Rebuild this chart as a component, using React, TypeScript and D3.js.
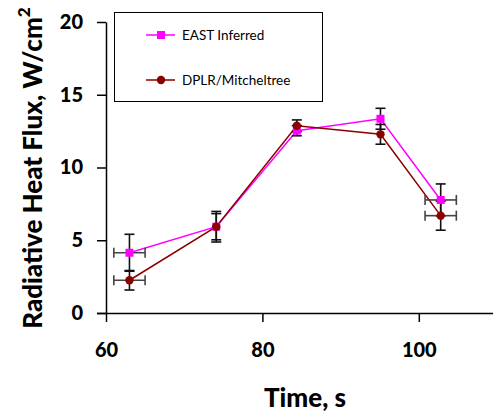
import React, { useEffect, useRef } from "react";
import { select, scaleLinear, axisBottom, axisLeft, line } from "d3";

const width = 493;
const height = 413;
const margin = { top: 22, left: 106, bottom: 100 };

const times = [63, 74.1, 84.4, 95.1, 102.8];
const timeErr = [2, 0, 0, 0, 2];
const eastFlux = [4.14, 5.93, 12.53, 13.35, 7.77];
const eastErr = [1.27, 1.05, 0.35, 0.72, 1.1];
const dplrFlux = [2.25, 5.93, 12.87, 12.28, 6.69];
const dplrErr = [0.67, 0.9, 0.4, 0.68, 1.0];
const xTicks = [60, 80, 100];
const yTicks = [0, 5, 10, 15, 20];
const seriesNames = ["EAST Inferred", "DPLR/Mitcheltree"];

const font = "Lato, 'Open Sans', sans-serif";

const App = () => {
  const ref = useRef<SVGSVGElement>(null);

  useEffect(() => {
    const svg = select(ref.current);
    svg.selectAll("*").remove();

    const x = scaleLinear().domain([60, 110]).range([margin.left, 497]);
    const y = scaleLinear()
      .domain([0, 20])
      .range([height - margin.bottom, margin.top]);

    const series = [
      { name: seriesNames[0], values: eastFlux, err: eastErr, color: "#ff00ff", marker: "square" },
      { name: seriesNames[1], values: dplrFlux, err: dplrErr, color: "#8b0000", marker: "circle" },
    ];

    // axes
    const xAxis = svg
      .append("g")
      .attr("transform", `translate(0,${y(0)})`)
      .call(axisBottom(x).tickValues(xTicks).tickSize(9).tickSizeOuter(0).tickPadding(21));
    xAxis.select(".domain").attr("stroke-width", 1.5).attr("d", `M${margin.left - 9},0.5H${width}`);
    xAxis.selectAll(".tick line").attr("stroke-width", 1.5);
    xAxis
      .selectAll(".tick text")
      .attr("font-family", font)
      .attr("font-weight", 900)
      .attr("font-size", 20)
      .attr("fill", "#000");

    const yAxis = svg
      .append("g")
      .attr("transform", `translate(${x(60)},0)`)
      .call(axisLeft(y).tickValues(yTicks).tickSize(9).tickSizeOuter(0).tickPadding(14));
    yAxis.select(".domain").attr("stroke-width", 1.5);
    yAxis.selectAll(".tick line").attr("stroke-width", 1.5);
    yAxis
      .selectAll(".tick text")
      .attr("font-family", font)
      .attr("font-weight", 900)
      .attr("font-size", 20)
      .attr("fill", "#000");

    // titles
    svg
      .append("text")
      .attr("x", 305)
      .attr("y", 407)
      .attr("text-anchor", "middle")
      .attr("font-family", font)
      .attr("font-weight", 900)
      .attr("font-size", 26)
      .text("Time, s");

    const yt = svg
      .append("text")
      .attr("transform", `translate(42,168) rotate(-90)`)
      .attr("text-anchor", "middle")
      .attr("font-family", font)
      .attr("font-weight", 900)
      .attr("font-size", 26);
    yt.append("tspan").text("Radiative Heat Flux, W/cm");
    yt.append("tspan").attr("dy", -12).attr("font-size", 17).text("2");

    // lines
    series.forEach((s) => {
      const path = line<number>()
        .x((_, i) => x(times[i]))
        .y((d) => y(d));
      svg
        .append("path")
        .datum(s.values)
        .attr("fill", "none")
        .attr("stroke", s.color)
        .attr("stroke-width", 1.5)
        .attr("d", path);
    });

    // error bars
    const eb = svg.append("g");
    series.forEach((s) => {
      s.values.forEach((v, i) => {
        const cx = x(times[i]);
        const cy = y(v);
        const y1 = y(v + s.err[i]);
        const y2 = y(v - s.err[i]);
        eb.append("line").attr("x1", cx).attr("x2", cx).attr("y1", y1).attr("y2", y2)
          .attr("stroke", "#111").attr("stroke-width", 1.6);
        [y1, y2].forEach((yy) =>
          eb.append("line").attr("x1", cx - 5).attr("x2", cx + 5).attr("y1", yy).attr("y2", yy)
            .attr("stroke", "#111").attr("stroke-width", 1.6)
        );
        if (timeErr[i] > 0) {
          const x1 = x(times[i] - timeErr[i]);
          const x2 = x(times[i] + timeErr[i]);
          eb.append("line").attr("x1", x1).attr("x2", x2).attr("y1", cy).attr("y2", cy)
            .attr("stroke", "#444").attr("stroke-width", 1.6);
          [x1, x2].forEach((xx) =>
            eb.append("line").attr("x1", xx).attr("x2", xx).attr("y1", cy - 5).attr("y2", cy + 5)
              .attr("stroke", "#444").attr("stroke-width", 1.6)
          );
        }
      });
    });

    // markers
    const drawMarker = (g: any, m: string, cx: number, cy: number, color: string) => {
      if (m === "square") {
        g.append("rect").attr("x", cx - 4).attr("y", cy - 4).attr("width", 8).attr("height", 8).attr("fill", color);
      } else {
        g.append("circle").attr("cx", cx).attr("cy", cy).attr("r", 4.2).attr("fill", color);
      }
    };
    const mk = svg.append("g");
    series.forEach((s) => {
      s.values.forEach((v, i) => drawMarker(mk, s.marker, x(times[i]), y(v), s.color));
    });

    // legend
    const lg = svg.append("g");
    lg.append("rect").attr("x", 114.5).attr("y", 12.5).attr("width", 208).attr("height", 89)
      .attr("fill", "#fff").attr("stroke", "#000").attr("stroke-width", 1);
    series.forEach((s, i) => {
      const ly = 35 + i * 45;
      lg.append("line").attr("x1", 146).attr("x2", 175).attr("y1", ly).attr("y2", ly)
        .attr("stroke", s.color).attr("stroke-width", 1.5);
      drawMarker(lg, s.marker, 161, ly, s.color);
      lg.append("text").attr("x", 182).attr("y", ly + 4.5).attr("font-family", font)
        .attr("font-size", 13.5).attr("fill", "#000").text(s.name);
    });
  }, []);

  return (
    <svg
      ref={ref}
      width={width}
      height={height}
      style={{ position: "absolute", left: 0, top: 0, background: "#fff" }}
    />
  );
};

export default App;
